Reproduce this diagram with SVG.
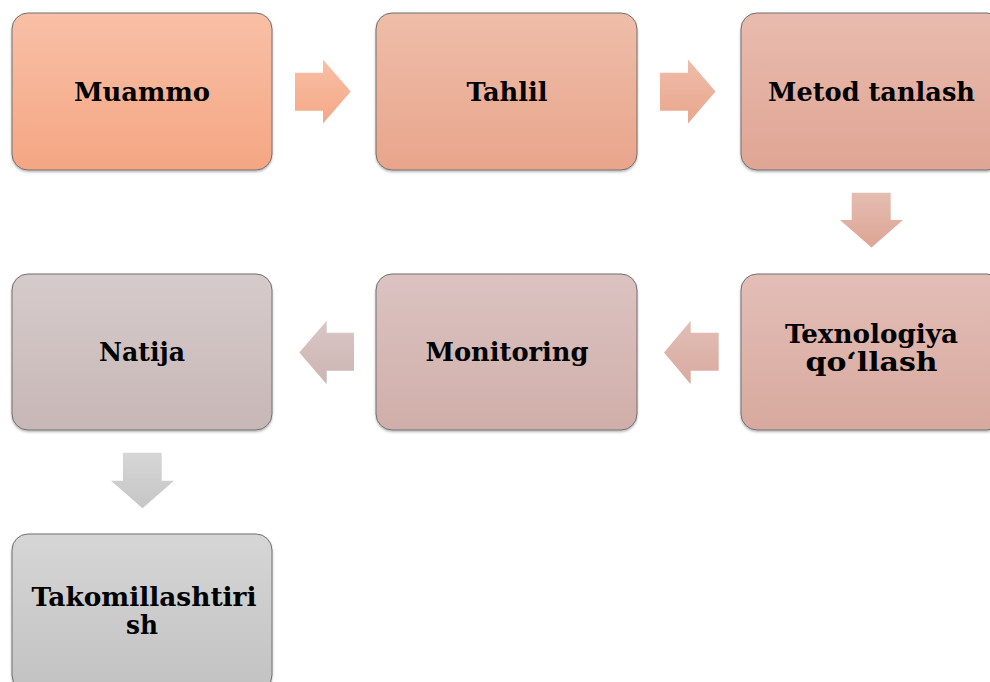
<svg xmlns="http://www.w3.org/2000/svg" width="990" height="682" viewBox="0 0 990 682">
<defs>
<linearGradient id="g1" x1="0" y1="0" x2="0" y2="1"><stop offset="0" stop-color="#F8C0A6"/><stop offset="1" stop-color="#F5A683"/></linearGradient>
<linearGradient id="g2" x1="0" y1="0" x2="0" y2="1"><stop offset="0" stop-color="#EEBDA8"/><stop offset="1" stop-color="#E9A58C"/></linearGradient>
<linearGradient id="g3" x1="0" y1="0" x2="0" y2="1"><stop offset="0" stop-color="#E8BBAE"/><stop offset="1" stop-color="#E0A594"/></linearGradient>
<linearGradient id="g4" x1="0" y1="0" x2="0" y2="1"><stop offset="0" stop-color="#E3BEB7"/><stop offset="1" stop-color="#D8A99E"/></linearGradient>
<linearGradient id="g5" x1="0" y1="0" x2="0" y2="1"><stop offset="0" stop-color="#DBC3C1"/><stop offset="1" stop-color="#D0AEA9"/></linearGradient>
<linearGradient id="g6" x1="0" y1="0" x2="0" y2="1"><stop offset="0" stop-color="#D6CBCB"/><stop offset="1" stop-color="#C7B7B6"/></linearGradient>
<linearGradient id="g7" x1="0" y1="0" x2="0" y2="1"><stop offset="0" stop-color="#D6D6D6"/><stop offset="1" stop-color="#C2C2C2"/></linearGradient>
<linearGradient id="a1" x1="0" y1="0" x2="0" y2="1"><stop offset="0" stop-color="#F8BFA5"/><stop offset="1" stop-color="#F5A886"/></linearGradient>
<linearGradient id="a2" x1="0" y1="0" x2="0" y2="1"><stop offset="0" stop-color="#EFBDA8"/><stop offset="1" stop-color="#E9A68D"/></linearGradient>
<linearGradient id="a3" x1="0" y1="0" x2="0" y2="1"><stop offset="0" stop-color="#E4BDB1"/><stop offset="1" stop-color="#DDA494"/></linearGradient>
<linearGradient id="a4" x1="0" y1="0" x2="0" y2="1"><stop offset="0" stop-color="#E2BEB6"/><stop offset="1" stop-color="#D8AA9F"/></linearGradient>
<linearGradient id="a5" x1="0" y1="0" x2="0" y2="1"><stop offset="0" stop-color="#D9C7C5"/><stop offset="1" stop-color="#CCB4B2"/></linearGradient>
<linearGradient id="a6" x1="0" y1="0" x2="0" y2="1"><stop offset="0" stop-color="#D6D6D6"/><stop offset="1" stop-color="#C6C6C6"/></linearGradient>
<filter id="sh" x="-5%" y="-5%" width="110%" height="115%"><feDropShadow dx="0" dy="1.5" stdDeviation="1" flood-color="#000" flood-opacity="0.3"/></filter>
</defs>
<style>
.box{stroke:#707070;stroke-width:1;filter:url(#sh)}
.lbl{font-family:"DejaVu Serif Condensed","DejaVu Serif","Liberation Serif",serif;font-stretch:condensed;font-weight:bold;font-size:26px;fill:#000;text-anchor:middle}
</style>
<rect width="990" height="682" fill="#FFFFFF"/>
<g id="connectors">
<path d="M295,72.7 H323 V59.5 L350.7,91.5 L323,123.5 V110.7 H295 Z" fill="url(#a1)"/>
<path d="M660,72.7 H688 V59.5 L715.5,91.5 L688,123.5 V110.7 H660 Z" fill="url(#a2)"/>
<path d="M851.7,192.7 H890.7 V220 H903 L871.5,247.5 L840,220 H851.7 Z" fill="url(#a3)"/>
<path d="M718.7,332.7 H690.7 V320.7 L664,352.5 L690.7,384.3 V370.7 H718.7 Z" fill="url(#a4)"/>
<path d="M354,332.7 H326.7 V320.7 L299.3,352.5 L326.7,384.3 V370.7 H354 Z" fill="url(#a5)"/>
<path d="M123,452.7 H161.7 V480.7 H174 L142.5,508.3 L111,480.7 H123 Z" fill="url(#a6)"/>
</g>
<g id="muammo">
<rect class="box" x="12" y="13" width="260" height="157" rx="16" fill="url(#g1)"/>
<text class="lbl" x="142" y="101" textLength="136" lengthAdjust="spacingAndGlyphs">Muammo</text>
</g>
<g id="tahlil">
<rect class="box" x="376" y="13" width="261" height="157" rx="16" fill="url(#g2)"/>
<text class="lbl" x="507" y="101" textLength="81" lengthAdjust="spacingAndGlyphs">Tahlil</text>
</g>
<g id="metod">
<rect class="box" x="741" y="13" width="262" height="157" rx="16" fill="url(#g3)"/>
<text class="lbl" x="871.5" y="101" textLength="207" lengthAdjust="spacingAndGlyphs">Metod tanlash</text>
</g>
<g id="texnologiya">
<rect class="box" x="741" y="274" width="262" height="156" rx="16" fill="url(#g4)"/>
<text class="lbl" x="871.5" y="342.5" textLength="173" lengthAdjust="spacingAndGlyphs">Texnologiya</text>
<text class="lbl" x="871.5" y="371" textLength="132" lengthAdjust="spacingAndGlyphs">qo‘llash</text>
</g>
<g id="monitoring">
<rect class="box" x="376" y="274" width="261" height="156" rx="16" fill="url(#g5)"/>
<text class="lbl" x="507" y="361" textLength="163" lengthAdjust="spacingAndGlyphs">Monitoring</text>
</g>
<g id="natija">
<rect class="box" x="12" y="274" width="260" height="156" rx="16" fill="url(#g6)"/>
<text class="lbl" x="142" y="361" textLength="86" lengthAdjust="spacingAndGlyphs">Natija</text>
</g>
<g id="takomillashtirish">
<rect class="box" x="12" y="534" width="260" height="157" rx="16" fill="url(#g7)"/>
<text class="lbl" x="144" y="605.5" textLength="225" lengthAdjust="spacingAndGlyphs">Takomillashtiri</text>
<text class="lbl" x="142" y="634" textLength="32" lengthAdjust="spacingAndGlyphs">sh</text>
</g>
</svg>
